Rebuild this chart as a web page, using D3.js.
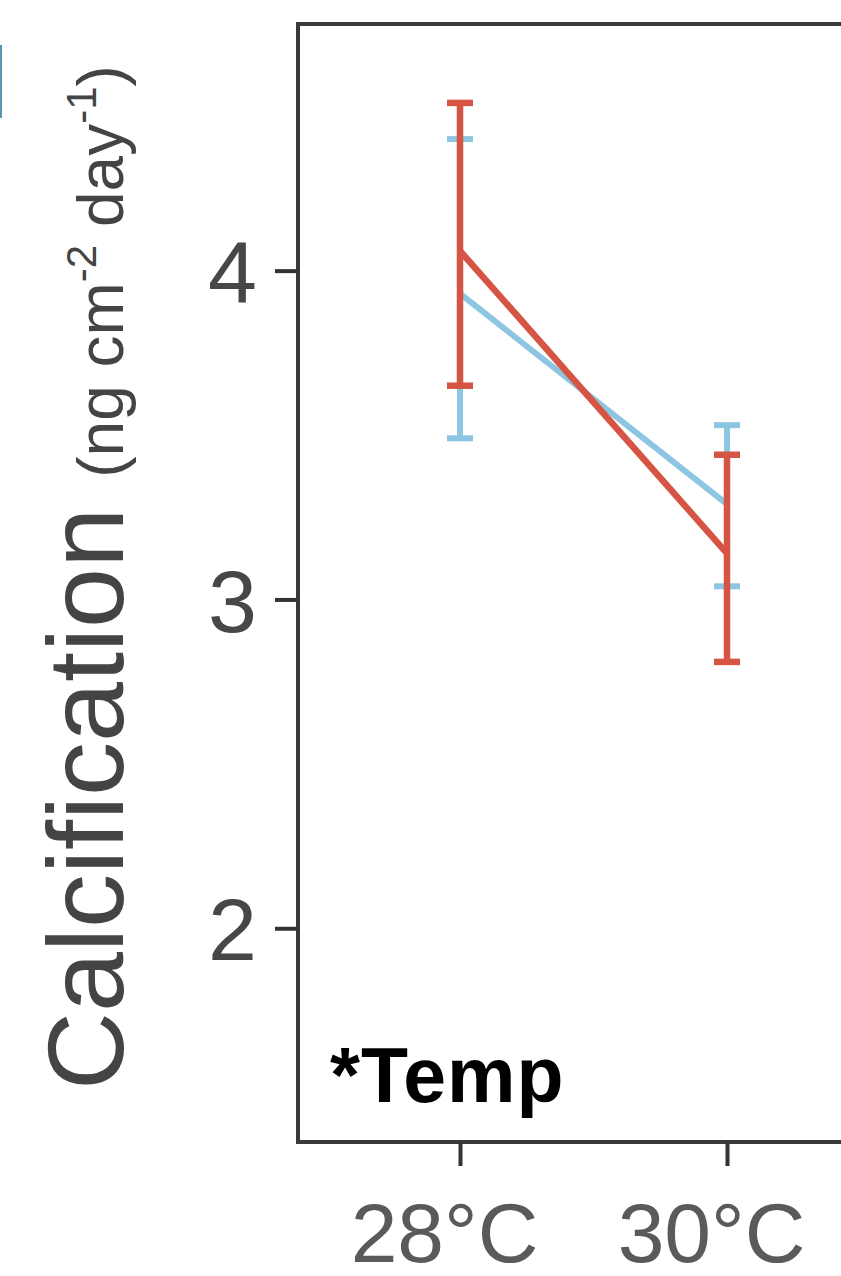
<!DOCTYPE html>
<html>
<head>
<meta charset="utf-8">
<script src="https://cdn.jsdelivr.net/npm/d3@7"></script>
<style>
  body { margin: 0; background: #fff; }
  svg { display: block; }
</style>
</head>
<body>
<div id="chart"></div>
<script>
// temperatures and per-series means with error bar bounds
const temps = ["28°C", "30°C"];
const yTicks = [2, 3, 4];

const blueMean = [3.93, 3.29];
const blueLow = [3.49, 3.04];
const blueHigh = [4.40, 3.53];

const redMean = [4.06, 3.14];
const redLow = [3.65, 2.81];
const redHigh = [4.51, 3.44];

const width = 841, height = 1276;
const margin = {top: 24, bottom: 134, left: 298, right: 0};

const svg = d3.select("#chart")
    .append("svg")
    .attr("width", width)
    .attr("height", height)
    .style("font-family", "'Liberation Sans', Arial, sans-serif");

const x = d3.scalePoint()
    .domain(temps)
    .range([460, 727]);

const y = d3.scaleLinear()
    .domain([1.35, 4.75])
    .range([height - margin.bottom, margin.top]);

// edge of the neighbouring panel
svg.append("rect")
    .attr("x", 0)
    .attr("y", 45)
    .attr("width", 2)
    .attr("height", 73)
    .attr("fill", "#5e93b3");

// panel frame (runs off the right side)
svg.append("path")
    .attr("d", `M${width + 10},${margin.top}H${margin.left}V${height - margin.bottom}H${width + 10}`)
    .attr("fill", "none")
    .attr("stroke", "#3a3a3a")
    .attr("stroke-width", 4);

// y axis
const yAxis = svg.append("g")
    .attr("transform", `translate(${margin.left},0)`)
    .call(d3.axisLeft(y).tickValues(yTicks).tickSize(23).tickPadding(18).tickFormat(d3.format("d")));
yAxis.select(".domain").remove();
yAxis.selectAll("line").attr("stroke", "#333").attr("stroke-width", 4);
yAxis.selectAll("text")
    .attr("fill", "#474747")
    .style("font-size", "88px")
    .attr("dy", "0.36em");

// x axis
const xAxis = svg.append("g")
    .attr("transform", `translate(0,${height - margin.bottom})`)
    .call(d3.axisBottom(x).tickSize(24).tickPadding(36));
xAxis.select(".domain").remove();
xAxis.selectAll("line").attr("stroke", "#333").attr("stroke-width", 4);
xAxis.selectAll("text")
    .attr("fill", "#5a5a5a")
    .attr("dx", -16)
    .attr("dy", "0.71em")
    .style("font-size", "84px");

// draw one series: line through means plus capped error bars
function drawSeries(means, lows, highs, color, lw) {
    const g = svg.append("g");
    const pts = temps.map((t, i) => ({t: t, m: means[i], lo: lows[i], hi: highs[i]}));

    g.append("path")
        .datum(pts)
        .attr("fill", "none")
        .attr("stroke", color)
        .attr("stroke-width", lw)
        .attr("d", d3.line().x(d => x(d.t)).y(d => y(d.m)));

    const bars = g.selectAll(".err")
        .data(pts)
        .enter()
        .append("g");

    bars.append("line")
        .attr("x1", d => x(d.t)).attr("x2", d => x(d.t))
        .attr("y1", d => y(d.lo)).attr("y2", d => y(d.hi))
        .attr("stroke", color).attr("stroke-width", lw);

    [d => y(d.lo), d => y(d.hi)].forEach(fy => {
        bars.append("line")
            .attr("x1", d => x(d.t) - 13).attr("x2", d => x(d.t) + 13)
            .attr("y1", fy).attr("y2", fy)
            .attr("stroke", color).attr("stroke-width", lw);
    });
}

drawSeries(blueMean, blueLow, blueHigh, "#8cc6e2", 6);
drawSeries(redMean, redLow, redHigh, "#d55443", 6.5);

// significance note
svg.append("text")
    .attr("x", 330)
    .attr("y", 1102)
    .attr("fill", "#000")
    .style("font-size", "77px")
    .style("font-weight", "bold")
    .style("letter-spacing", "1px")
    .text("*Temp");

// y axis title
const title = svg.append("text")
    .attr("transform", "translate(123,1090) rotate(-90)")
    .attr("fill", "#444");
title.append("tspan")
    .style("font-size", "108px")
    .text("Calcification ");
title.append("tspan")
    .style("font-size", "64px")
    .text("(ng cm");
title.append("tspan")
    .style("font-size", "42px")
    .attr("dy", -27)
    .text("-2");
title.append("tspan")
    .style("font-size", "64px")
    .attr("dy", 27)
    .text(" day");
title.append("tspan")
    .style("font-size", "42px")
    .attr("dy", -27)
    .text("-1");
title.append("tspan")
    .style("font-size", "64px")
    .attr("dy", 27)
    .text(")");
</script>
</body>
</html>
